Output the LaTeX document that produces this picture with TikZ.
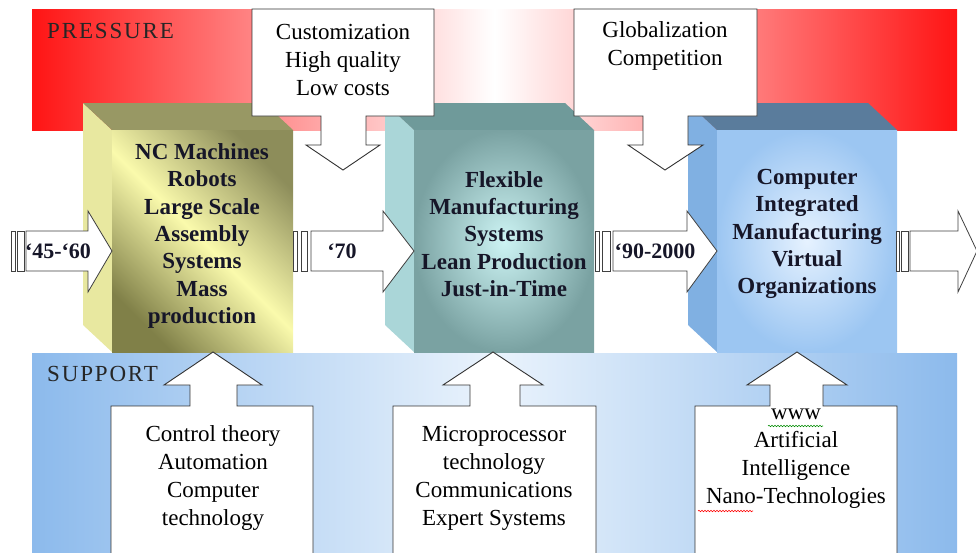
\documentclass[tikz,border=0pt]{standalone}
\usepackage{fontspec}
\setmainfont{Liberation Serif}
\usetikzlibrary{decorations.pathmorphing}

\definecolor{pressred}{RGB}{255,20,20}
\definecolor{suppblue}{RGB}{140,186,236}
\definecolor{suppmid}{RGB}{234,243,252}
\definecolor{yelside}{RGB}{232,232,160}
\definecolor{yeltop}{RGB}{152,152,100}
\definecolor{yeldark}{RGB}{128,128,72}
\definecolor{yellight}{RGB}{250,250,172}
\definecolor{tealside}{RGB}{170,214,216}
\definecolor{tealtop}{RGB}{111,154,154}
\definecolor{tealout}{RGB}{122,162,162}
\definecolor{tealin}{RGB}{205,244,244}
\definecolor{blueside}{RGB}{128,176,226}
\definecolor{bluetop}{RGB}{90,124,156}
\definecolor{blueout}{RGB}{156,198,242}
\definecolor{bluein}{RGB}{230,242,255}
\definecolor{inktext}{RGB}{22,22,40}

\tikzset{
    blockarrow/.style={draw=black!75, fill=white, line width=0.8pt},
    callout/.style={draw=black!80, fill=white, line width=0.9pt},
    boxtext/.style={align=center, text=inktext, font=\fontsize{23}{27.3}\selectfont\bfseries},
    datetext/.style={text=inktext, font=\fontsize{22}{24}\selectfont\bfseries},
    calltext/.style={align=center, font=\fontsize{23}{28}\selectfont},
    bandtext/.style={anchor=west, inner sep=0pt, text=black!85, font=\fontsize{23}{25}\selectfont\addfontfeature{LetterSpace=8}},
    squiggle/.style={decorate, decoration={snake, amplitude=0.7pt, segment length=3pt}, line width=0.6pt}
}

\begin{document}
\begin{tikzpicture}[x=1pt,y=-1pt]%
        \useasboundingbox (0,0) rectangle (976,552);
        % pressure band
        \shade[left color=pressred, right color=pressred, middle color=white] (32,9) rectangle (957,130);
        \node[bandtext] (press) at (47,31) {PRESSURE};
        % the three cubes
        \fill[yelside] (83,103) -- (112,130) -- (112,352) -- (83,325) -- cycle;
        \fill[yeltop] (83,103) -- (264,103) -- (293,130) -- (112,130) -- cycle;
        \shade[bottom color=yeldark, top color=yeldark!90, middle color=yellight, shading angle=-45] (112,130) rectangle (293,352);
        \fill[tealside] (385,103) -- (414,130) -- (414,352) -- (385,325) -- cycle;
        \fill[tealtop] (385,103) -- (565,103) -- (594,130) -- (414,130) -- cycle;
        \shade[inner color=tealin, outer color=tealout] (414,130) rectangle (594,352);
        \fill[blueside] (688,103) -- (717,130) -- (717,352) -- (688,325) -- cycle;
        \fill[bluetop] (688,103) -- (868,103) -- (897,130) -- (717,130) -- cycle;
        \shade[inner color=bluein, outer color=blueout] (717,130) rectangle (897,352);
        \node[boxtext] (nc) at (202,236) {NC Machines\\Robots\\Large Scale\\Assembly\\Systems\\Mass\\production};
        \node[boxtext] (fms) at (504,234) {Flexible\\Manufacturing\\Systems\\Lean Production\\Just-in-Time};
        \node[boxtext] (cim) at (807,234) {Computer\\Integrated\\Manufacturing\\Virtual\\Organizations};
        % pressure callouts
        \draw[callout] (252,9) -- (434,9) -- (434,116) -- (366,116) -- (366,145) -- (380,145) -- (343,170)
                -- (306,145) -- (321,145) -- (321,116) -- (252,116) -- cycle;
        \node[calltext] (cust) at (343,60) {Customization\\High quality\\Low costs};
        \draw[callout] (574,9) -- (757,9) -- (757,116) -- (688,116) -- (688,145) -- (703,145) -- (665,170)
                -- (628,145) -- (643,145) -- (643,116) -- (574,116) -- cycle;
        \node[calltext] (glob) at (665,46) {Globalization\\Competition};
        % support band
        \shade[left color=suppblue, right color=suppblue, middle color=suppmid] (32,353) rectangle (957,560);
        \node[bandtext] (supp) at (47,374) {SUPPORT};
        % support callouts
        \draw[callout] (111,560) -- (111,406) -- (190,406) -- (190,385) -- (164,385) -- (213,352)
                -- (262,385) -- (237,385) -- (237,406) -- (313,406) -- (313,560) -- cycle;
        \node[calltext] (ctrl) at (213,478) {Control theory\\Automation\\Computer\\technology};
        \draw[callout] (393,560) -- (393,406) -- (470,406) -- (470,385) -- (443,385) -- (493,352)
                -- (543,385) -- (520,385) -- (520,406) -- (596,406) -- (596,560) -- cycle;
        \node[calltext] (micro) at (494,478) {Microprocessor\\technology\\Communications\\Expert Systems};
        \draw[callout] (695,560) -- (695,406) -- (770,406) -- (770,385) -- (747,385) -- (797,352)
                -- (847,385) -- (823,385) -- (823,406) -- (897,406) -- (897,560) -- cycle;
        \node[calltext] (www) at (796,459) {www\\Artificial\\Intelligence\\Nano-Technologies};
        \draw[squiggle, green!55!black] (768,426) -- (823,426);
        \draw[squiggle, red] (698,511) -- (753,511);
        % time arrows
        \draw[blockarrow] (11,231) rectangle (15,271);
        \draw[blockarrow] (17,231) rectangle (24,271);
        \draw[blockarrow] (26,231) -- (88,231) -- (88,211) -- (112,251) -- (88,292) -- (88,271) -- (26,271) -- cycle;
        \node[datetext] (d45) at (58,251) {‘45-‘60};
        \draw[blockarrow] (293,231) rectangle (297,271);
        \draw[blockarrow] (301,231) rectangle (307,271);
        \draw[blockarrow] (311,231) -- (383,231) -- (383,211) -- (414,251) -- (383,292) -- (383,271) -- (311,271) -- cycle;
        \node[datetext] (d70) at (342,251) {‘70};
        \draw[blockarrow] (595,231) rectangle (599,271);
        \draw[blockarrow] (602,231) rectangle (610,271);
        \draw[blockarrow] (613,231) -- (687,231) -- (687,211) -- (717,251) -- (687,292) -- (687,271) -- (613,271) -- cycle;
        \node[datetext] (d90) at (655,251) {‘90-2000};
        \draw[blockarrow] (896,231) rectangle (899,271);
        \draw[blockarrow] (901,231) rectangle (908,271);
        \draw[blockarrow] (910,231) -- (958,231) -- (958,211) -- (977,251) -- (958,292) -- (958,271) -- (910,271) -- cycle;
    \end{tikzpicture}
\end{document}
